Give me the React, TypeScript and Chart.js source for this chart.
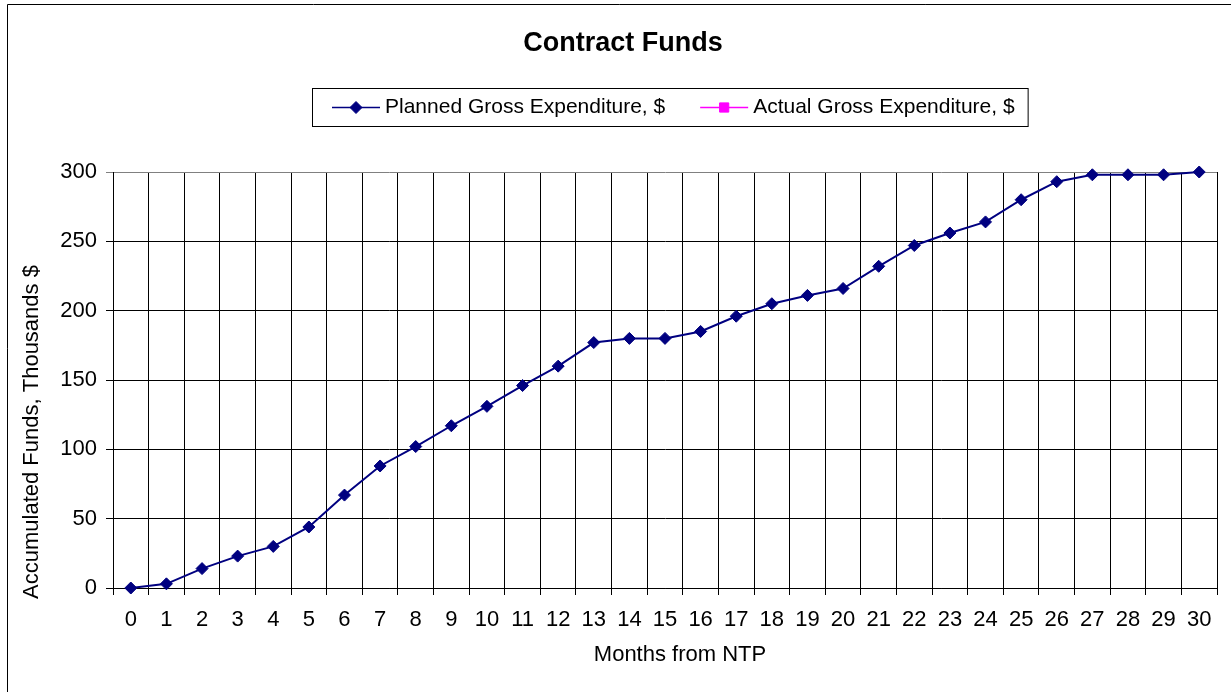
import React, { useEffect, useRef } from 'react';
import { Chart, registerables } from 'chart.js';

Chart.register(...registerables);

const chartTitle = 'Contract Funds';
const xAxisTitle = 'Months from NTP';
const yAxisTitle = 'Accumulated Funds, Thousands $';

const months = ['0', '1', '2', '3', '4', '5', '6', '7', '8', '9', '10', '11', '12', '13', '14', '15', '16', '17', '18', '19', '20', '21', '22', '23', '24', '25', '26', '27', '28', '29', '30'];

const plannedLabel = 'Planned Gross Expenditure, $';
const plannedValues = [0, 3, 14, 23, 30, 44, 67, 88, 102, 117, 131, 146, 160, 177, 180, 180, 185, 196, 205, 211, 216, 232, 247, 256, 264, 280, 293, 298, 298, 298, 300];

const actualLabel = 'Actual Gross Expenditure, $';
const actualValues: (number | null)[] = [];

const yTicks = [0, 50, 100, 150, 200, 250, 300];

const FONT = "'Liberation Sans', Arial, Helvetica, sans-serif";

function drawMarker(ctx: CanvasRenderingContext2D, style: string, x: number, y: number, r: number, color: string) {
  ctx.save();
  ctx.fillStyle = color;
  ctx.strokeStyle = color;
  ctx.lineWidth = 1;
  ctx.beginPath();
  if (style === 'rectRot') {
    ctx.moveTo(x - r, y);
    ctx.lineTo(x, y - r);
    ctx.lineTo(x + r, y);
    ctx.lineTo(x, y + r);
    ctx.closePath();
  } else {
    const s = r * Math.SQRT1_2;
    ctx.rect(x - s, y - s, 2 * s, 2 * s);
  }
  ctx.fill();
  ctx.stroke();
  ctx.restore();
}

const decorPlugin = {
  id: 'excelDecor',
  beforeDraw(chart: any) {
    const ctx: CanvasRenderingContext2D = chart.ctx;
    ctx.save();
    ctx.fillStyle = '#ffffff';
    ctx.fillRect(0, 0, chart.width, chart.height);
    ctx.strokeStyle = '#000000';
    ctx.lineWidth = 1;
    ctx.beginPath();
    ctx.moveTo(7.5, chart.height + 2);
    ctx.lineTo(7.5, 4.5);
    ctx.lineTo(chart.width + 2, 4.5);
    ctx.stroke();
    ctx.restore();
  },
  afterDraw(chart: any) {
    const ctx: CanvasRenderingContext2D = chart.ctx;
    ctx.save();
    // Title
    ctx.fillStyle = '#000';
    ctx.font = `bold 27px ${FONT}`;
    ctx.textAlign = 'center';
    ctx.textBaseline = 'middle';
    ctx.fillText(chartTitle, 623, 44);

    // Axis titles
    ctx.font = `22px ${FONT}`;
    ctx.fillText(xAxisTitle, 680, 655);
    ctx.save();
    ctx.translate(32, 432);
    ctx.rotate(-Math.PI / 2);
    ctx.fillText(yAxisTitle, 0, 0);
    ctx.restore();

    // Legend
    ctx.font = `21px ${FONT}`;
    ctx.textAlign = 'left';
    const boxLeft = 312;
    const boxTop = 88;
    const boxH = 38;
    const cy = boxTop + boxH / 2 + 0.5;
    let x = boxLeft + 20;
    const datasets = chart.data.datasets;
    datasets.forEach((ds: any, i: number) => {
      ctx.strokeStyle = ds.borderColor;
      ctx.lineWidth = 1.5;
      ctx.beginPath();
      ctx.moveTo(x, cy);
      ctx.lineTo(x + 48, cy);
      ctx.stroke();
      drawMarker(ctx, ds.pointStyle, x + 24, cy, ds.pointStyle === 'rectRot' ? 6 : 6.5, ds.borderColor);
      ctx.fillStyle = '#000';
      ctx.fillText(ds.label, x + 53, cy);
      const w = ctx.measureText(ds.label).width;
      x = x + 53 + w + (i < datasets.length - 1 ? 35 : 13);
    });
    ctx.strokeStyle = '#000';
    ctx.lineWidth = 1;
    ctx.strokeRect(boxLeft + 0.5, boxTop + 0.5, x - boxLeft, boxH);
    ctx.restore();
  },
};

export default function App() {
  const canvasRef = useRef<HTMLCanvasElement | null>(null);

  useEffect(() => {
    const canvas = canvasRef.current;
    if (!canvas) return;
    const chart = new Chart(canvas, {
      type: 'line',
      data: {
        labels: months,
        datasets: [
          {
            label: plannedLabel,
            data: plannedValues,
            borderColor: '#000080',
            backgroundColor: '#000080',
            borderWidth: 2,
            pointStyle: 'rectRot',
            pointRadius: 6,
            pointBorderWidth: 1,
            pointBackgroundColor: '#000080',
            pointBorderColor: '#000080',
            tension: 0,
            fill: false,
            clip: false,
          },
          {
            label: actualLabel,
            data: actualValues,
            borderColor: '#FF00FF',
            backgroundColor: '#FF00FF',
            borderWidth: 2,
            pointStyle: 'rect',
            pointRadius: 6,
            tension: 0,
            fill: false,
            clip: false,
          },
        ],
      },
      options: {
        responsive: false,
        animation: false,
        layout: { padding: { left: 0, right: 14, top: 172, bottom: 0 } },
        plugins: {
          legend: { display: false },
          title: { display: false },
          tooltip: { enabled: false },
        },
        scales: {
          x: {
            type: 'category',
            offset: true,
            grid: {
              offset: true,
              color: (c: any) => (c.index === months.length ? '#808080' : '#000000'),
              lineWidth: 1,
              tickLength: 7,
              drawTicks: true,
            },
            border: { color: '#000000', width: 1 },
            ticks: {
              color: '#000',
              font: { family: FONT, size: 22 },
              padding: 12,
              maxRotation: 0,
              autoSkip: false,
            },
            afterFit: (s: any) => {
              s.height = 104;
            },
          },
          y: {
            min: yTicks[0],
            max: yTicks[yTicks.length - 1],
            grid: {
              color: (c: any) => (c.tick && c.tick.value === yTicks[yTicks.length - 1] ? '#808080' : '#000000'),
              lineWidth: 1,
              tickLength: 7,
            },
            border: { color: '#000000', width: 1 },
            ticks: {
              stepSize: yTicks[1] - yTicks[0],
              color: '#000',
              font: { family: FONT, size: 22 },
              padding: 9,
            },
            afterFit: (s: any) => {
              s.width = 113;
            },
          },
        },
      },
      plugins: [decorPlugin],
    } as any);
    return () => chart.destroy();
  }, []);

  return (
    <div style={{ position: 'absolute', left: 0, top: 0, width: 1231, height: 692, background: '#fff' }}>
      <canvas ref={canvasRef} width={1231} height={692} style={{ display: 'block' }} />
    </div>
  );
}
